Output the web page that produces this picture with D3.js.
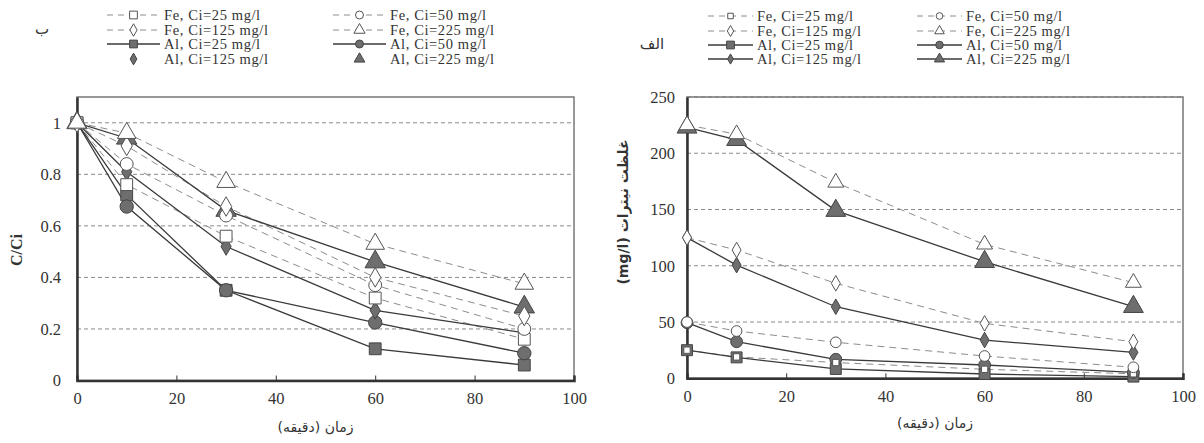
<!DOCTYPE html>
<html>
<head>
<meta charset="utf-8">
<script src="https://cdn.jsdelivr.net/npm/d3@7"></script>
<style>
  body { margin: 0; background: #fff; }
  text { font-family: "Liberation Serif", "DejaVu Serif", serif; fill: #333; }
</style>
</head>
<body>
<svg class="chart"></svg>
<script>
var width = 1204, height = 443;

// time (minutes)
var times = [0, 10, 30, 60, 90];
var timeTicks = [0, 20, 40, 60, 80, 100];

var seriesNames = ["Fe, Ci=25 mg/l", "Fe, Ci=50 mg/l", "Fe, Ci=125 mg/l", "Fe, Ci=225 mg/l",
                   "Al, Ci=25 mg/l", "Al, Ci=50 mg/l", "Al, Ci=125 mg/l", "Al, Ci=225 mg/l"];

// left chart (ب) : C/Ci
var ratioFe25  = [1, 0.76, 0.56, 0.32, 0.16];
var ratioFe50  = [1, 0.84, 0.64, 0.37, 0.20];
var ratioFe125 = [1, 0.91, 0.675, 0.40, 0.25];
var ratioFe225 = [1, 0.96, 0.77, 0.53, 0.375];
var ratioAl25  = [1, 0.72, 0.35, 0.123, 0.06];
var ratioAl50  = [1, 0.675, 0.35, 0.225, 0.106];
var ratioAl125 = [1, 0.81, 0.52, 0.272, 0.185];
var ratioAl225 = [1, 0.94, 0.66, 0.46, 0.285];
var ratioTicks = [0, 0.2, 0.4, 0.6, 0.8, 1];

// right chart (الف) : nitrate, mg/l
var concFe25  = [25, 19, 14, 8, 4];
var concFe50  = [50, 42, 32, 19.8, 9.8];
var concFe125 = [125, 114, 84.4, 48.8, 32.5];
var concFe225 = [225, 217, 174, 119, 85];
var concAl25  = [25, 18.6, 8.3, 3.8, 1.5];
var concAl50  = [49.4, 32.5, 16.9, 11.8, 5.3];
var concAl125 = [125, 100.6, 63.6, 34, 23];
var concAl225 = [223, 212, 149, 103.6, 63.6];
var concTicks = [0, 50, 100, 150, 200, 250];

var svg = d3.select(".chart")
    .attr("width", width)
    .attr("height", height);

// marker look for every series (Fe open, Al filled)
function styles(fe25Shape) {
  return [
    {shape: fe25Shape, fill: "#fff", dashed: true},
    {shape: d3.symbolCircle, fill: "#fff", dashed: true},
    {shape: d3.symbolDiamond, fill: "#fff", dashed: true},
    {shape: d3.symbolTriangle, fill: "#fff", dashed: true},
    {shape: d3.symbolSquare, fill: "#6e6e6e", dashed: false},
    {shape: d3.symbolCircle, fill: "#6e6e6e", dashed: false},
    {shape: d3.symbolDiamond, fill: "#6e6e6e", dashed: false},
    {shape: d3.symbolTriangle, fill: "#6e6e6e", dashed: false}
  ];
}

function drawChart(opt) {
  var x = d3.scaleLinear().domain([0, 100]).range([opt.left, opt.right]);
  var y = d3.scaleLinear().domain(opt.yDomain).range([opt.bottom, opt.top]);

  var g = svg.append("g");

  // grid
  g.selectAll(".grid")
      .data(opt.yTicks.filter(function(d) { return d > 0; }))
    .enter().append("line")
      .attr("x1", opt.left).attr("x2", opt.right)
      .attr("y1", function(d) { return y(d); })
      .attr("y2", function(d) { return y(d); })
      .attr("stroke", "#8a8a8a")
      .attr("stroke-width", 1)
      .attr("stroke-dasharray", "4,3");

  // frame
  g.append("rect")
      .attr("x", opt.left).attr("y", opt.top)
      .attr("width", opt.right - opt.left)
      .attr("height", opt.bottom - opt.top)
      .attr("fill", "none")
      .attr("stroke", "#777")
      .attr("stroke-width", 1.5);

  var xAxis = d3.axisBottom(x).tickValues(timeTicks).tickSize(-5).tickPadding(12);
  var yAxis = d3.axisLeft(y).tickValues(opt.yTicks).tickSize(0).tickPadding(opt.yPad)
      .tickFormat(opt.yFormat);

  g.append("g")
      .attr("transform", "translate(0," + opt.bottom + ")")
      .call(xAxis)
      .call(function(s) {
        s.select(".domain").attr("stroke", "#333").attr("stroke-width", 2.5);
        s.selectAll(".tick line").attr("stroke", "#333");
        s.selectAll("text").style("font-size", "16.5px").attr("fill", "#333");
      });
  g.append("g")
      .attr("transform", "translate(" + opt.left + ",0)")
      .call(yAxis)
      .call(function(s) {
        s.select(".domain").attr("stroke", "#333").attr("stroke-width", 2.5);
        s.selectAll("text").style("font-size", "16.5px").attr("fill", "#333");
      });

  var line = d3.line()
      .x(function(d, i) { return x(times[i]); })
      .y(function(d) { return y(d); });

  var st = styles(opt.fe25Shape);

  // dashed Fe lines, then solid Al lines
  [0, 1, 2, 3, 4, 5, 6, 7].forEach(function(k) {
    g.append("path")
        .attr("d", line(opt.series[k]))
        .attr("fill", "none")
        .attr("stroke", st[k].dashed ? "#8c8c8c" : "#3a3a3a")
        .attr("stroke-width", st[k].dashed ? 1 : 1.3)
        .attr("stroke-dasharray", st[k].dashed ? "7,5" : null);
  });

  // markers: Al first, Fe open markers above
  [4, 5, 6, 7, 0, 1, 2, 3].forEach(function(k) {
    var sym = d3.symbol().type(st[k].shape).size(opt.sizes[k]);
    g.selectAll(".m" + k)
        .data(opt.series[k])
      .enter().append("path")
        .attr("d", sym)
        .attr("transform", function(d, i) { return "translate(" + x(times[i]) + "," + y(d) + ")"; })
        .attr("fill", st[k].fill)
        .attr("stroke", st[k].fill === "#fff" ? "#555" : "#444")
        .attr("stroke-width", 1);
  });

  // legend
  var legend = g.append("g");
  seriesNames.forEach(function(name, k) {
    var col = k % 2, row = Math.floor(k / 2);
    var lx = opt.legendX[col], ly = opt.legendY[row];
    var lg = legend.append("g").attr("transform", "translate(" + lx + "," + ly + ")");
    if (opt.legendLine[k]) {
      lg.append("line")
          .attr("x1", 0).attr("x2", opt.legendLen)
          .attr("stroke", st[k].dashed ? "#8c8c8c" : "#3a3a3a")
          .attr("stroke-width", st[k].dashed ? 1 : 1.3)
          .attr("stroke-dasharray", st[k].dashed ? "6,5" : null);
    }
    lg.append("path")
        .attr("d", d3.symbol().type(st[k].shape).size(opt.legendSizes[k]))
        .attr("transform", "translate(" + opt.legendLen / 2 + ",0)")
        .attr("fill", st[k].fill)
        .attr("stroke", st[k].fill === "#fff" ? "#555" : "#444");
    lg.append("text")
        .attr("x", opt.legendLen + 4)
        .attr("dy", "0.35em")
        .style("font-size", "14.5px")
        .style("letter-spacing", "0.6px")
        .text(name);
  });

  // titles
  g.append("text")
      .attr("x", (opt.left + opt.right) / 2 + opt.xTitleShift)
      .attr("y", opt.xTitleY)
      .attr("text-anchor", "middle")
      .attr("direction", "rtl")
      .style("font-family", "'DejaVu Sans', sans-serif")
      .style("font-size", "14px")
      .text("زمان (دقیقه)");

  g.append("text")
      .attr("transform", "translate(" + opt.yTitleX + "," + opt.yTitleY + ") rotate(-90)")
      .attr("text-anchor", "middle")
      .style("font-size", opt.yTitleSize)
      .style("font-weight", "bold")
      .style("font-family", opt.yTitleFont)
      .text(opt.yTitle);

  g.append("text")
      .attr("x", opt.tagX).attr("y", opt.tagY)
      .attr("text-anchor", "middle")
      .style("font-family", "'DejaVu Sans', sans-serif")
      .style("font-size", "15px")
      .text(opt.tag);
}

drawChart({
  left: 77, right: 574, top: 97, bottom: 380.5,
  yDomain: [0, 1.1], yTicks: ratioTicks, yPad: 16,
  yFormat: function(d) { return d === 0 || d === 1 ? d : d3.format(".1f")(d); },
  series: [ratioFe25, ratioFe50, ratioFe125, ratioFe225, ratioAl25, ratioAl50, ratioAl125, ratioAl225],
  fe25Shape: d3.symbolSquare,
  sizes: [140, 130, 110, 150, 140, 140, 90, 180],
  legendX: [107, 333], legendY: [15, 30, 44, 59], legendLen: 53,
  legendLine: [true, true, true, true, true, true, false, false],
  legendSizes: [60, 50, 45, 55, 60, 50, 40, 50],
  xTitleShift: -10, xTitleY: 432,
  yTitle: "C/Ci", yTitleX: 22, yTitleY: 250, yTitleSize: "16px", yTitleFont: "'Liberation Serif', serif",
  tag: "ب", tagX: 42, tagY: 34
});

drawChart({
  left: 687, right: 1183, top: 97, bottom: 378.3,
  yDomain: [0, 250], yTicks: concTicks, yPad: 12,
  yFormat: d3.format("d"),
  series: [concFe25, concFe50, concFe125, concFe225, concAl25, concAl50, concAl125, concAl225],
  fe25Shape: d3.symbolSquare,
  sizes: [40, 90, 70, 110, 120, 110, 70, 170],
  legendX: [708, 917], legendY: [16, 31, 45, 59], legendLen: 45,
  legendLine: [true, true, true, true, true, true, true, true],
  legendSizes: [30, 35, 35, 40, 60, 45, 30, 45],
  xTitleShift: 0, xTitleY: 428,
  yTitle: "(mg/l) غلظت نیترات", yTitleX: 628, yTitleY: 212, yTitleSize: "14px", yTitleFont: "'DejaVu Sans', sans-serif",
  tag: "الف", tagX: 652, tagY: 49
});
</script>
</body>
</html>
